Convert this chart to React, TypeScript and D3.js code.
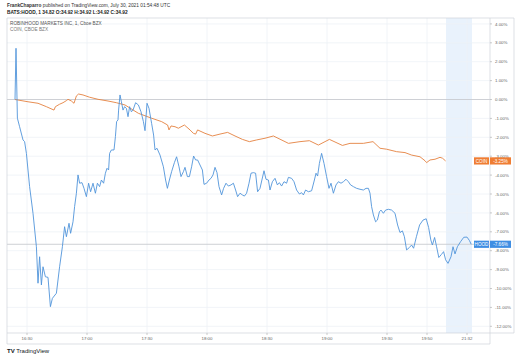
import React from "react";
import * as d3 from "d3";

const hoodIdx = [0,0.5,1.2,2.3,4,4.8,5.7,7.3,9,10.7,11.5,12.3,13.2,14,15.2,16.5,17.7,18.7,20.7,22.3,23.7,24.8,25.7,27,27.8,29,29.8,30.7,31.5,32.3,33.5,34.5,35.7,36.8,37.8,39,40.2,41.2,42.3,43.2,44.3,45.2,46,46.8,47.3,48.2,49.5,50.2,50.8,51.5,51.8,52.5,53.2,54,54.8,55.7,56.5,57.3,58.2,59,60.3,61.7,63,64.2,65,66,67,68.3,69.3,70,71,72.5,74.2,75.3,76.2,77.2,78.3,79.7,80.8,82,83,84.2,85,86.2,87.2,88.3,89.3,90.3,91.3,93.7,94.5,95.8,97,98,99,100,101,102,103.3,104.3,105.5,106.7,108,109.2,110.3,111.3,112.5,113.7,114.7,115.8,117,118,119.2,120.3,121.3,122.5,124.5,125.5,126.7,127.5,128.7,130,131.2,132.2,133.3,134.5,135.8,136.7,138.3,139.5,140.8,142.2,143.3,144.2,145.3,146.7,148.3,149.7,150.5,151.3,152.2,153.3,154.5,155.8,157,158,159.2,160.5,161.7,163,164.2,165.5,166.7,167.8,169.2,170.8,172.5,174.2,175.5,176.7,177.5,178.3,179.2,180.3,181.2,182.2,183,184.2,185.3,186.7,188.3,190,191.3,192.5,193.7,194.7,195.8,197.2,198.3,199.3,200.7,202.3,204,205.6,206.8,207.9,208.7,209.8,210.8,211.9,213.2,214.3,215.3,216.5,218,219,220,221.2,222.8,224.4,226,227.2,228.1];
const hoodPct = [0,2.71,-0.99,-1.44,-2.14,-2.23,-2.85,-4.61,-6.02,-7.79,-9.72,-8.32,-9.81,-8.85,-9.38,-9.41,-10.96,-10.52,-10.25,-8.85,-7.79,-6.73,-7.26,-6.55,-7.08,-6.47,-5.67,-4.96,-3.99,-4.43,-4.4,-4.7,-5.14,-4.43,-4.88,-4.43,-4.96,-4.43,-4.61,-4.26,-4.43,-3.9,-3.64,-3.73,-2.85,-2.67,-2.67,-1.97,-1.17,-1.08,-0.56,0.24,-0.12,-0.56,-0.38,-0.47,-0.91,-0.38,-0.65,-0.56,-0.17,-0.29,-0.65,-1.17,-1.65,-0.2,-0.47,-1.26,-1.88,-2.67,-2.58,-2.94,-3.56,-4.26,-4.7,-4.26,-3.82,-3.34,-3.03,-3.56,-4.08,-3.82,-3.59,-4.08,-4.08,-3.56,-2.99,-3.2,-3.2,-3.73,-4.49,-4.43,-4.26,-4.17,-3.99,-3.59,-3.87,-4.61,-5.05,-4.7,-4.43,-4.58,-4.52,-4.43,-4.79,-5.14,-4.96,-5.05,-5.11,-4.96,-4.43,-3.9,-3.87,-3.9,-4.88,-4.7,-3.77,-4.22,-4.26,-4.79,-4.35,-4.17,-4.52,-4.4,-4.58,-4.35,-4.43,-4.12,-4.17,-4.35,-4.79,-5,-4.93,-5.05,-4.79,-4.88,-4.83,-4.26,-3.9,-4.05,-3.38,-2.85,-3.38,-4.08,-4.7,-4.43,-4.96,-4.52,-4.35,-4.43,-4.35,-4.22,-4.35,-4.52,-4.61,-4.7,-4.75,-4.79,-4.7,-4.7,-4.96,-5.67,-6.11,-6.47,-6.38,-5.94,-5.85,-6.02,-5.85,-5.81,-5.85,-6.02,-6.64,-7.04,-6.95,-7.26,-7.96,-7.83,-7.7,-7.87,-7.26,-6.64,-6.38,-6.31,-6.77,-7.43,-7.7,-7.3,-7.79,-8.36,-8.2,-8.05,-8.48,-8.67,-8.32,-7.79,-8.17,-7.79,-7.52,-7.29,-7.28,-7.46,-7.66];

const coinIdx = [0,6.5,11.5,15.7,19.5,20.2,22.3,24,25.7,26.5,28.2,29.5,30.7,31.8,34,37.3,41.5,46.5,50.7,55,61.7,68.3,73.3,76.3,77,78,80,81.7,84.7,87.5,89.2,90.3,91.3,95,98.7,102.5,106.3,110,113.7,117.2,120.8,125,129.2,135,136.7,142.5,147.2,151.7,157.2,163.7,167.5,174.2,179,182.5,185.8,190.8,195,198.3,202.5,205,205.8,207.5,210,212.5,213.8,215.3];
const coinPct = [0,-0.12,-0.2,-0.38,-0.56,-0.38,-0.25,-0.17,-0.06,0.01,-0.08,-0.2,0.19,0.29,0.24,0.12,0.01,-0.08,-0.17,-0.29,-0.73,-0.99,-1.17,-1.35,-1.61,-1.4,-1.44,-1.52,-1.35,-1.61,-1.79,-1.83,-1.61,-1.79,-1.93,-1.83,-1.74,-1.93,-2.11,-2.23,-2.14,-2.05,-1.93,-2.23,-2.32,-2.23,-2.18,-2.41,-2.11,-2.43,-2.32,-2.32,-2.23,-2.58,-2.63,-2.76,-2.81,-2.94,-3.03,-3.24,-3.34,-3.2,-3.16,-3.06,-3.11,-3.25];

const timeTickIdx = [6, 36, 66, 96, 126, 156, 186, 206, 226];
const timeTickLabels = ["16:30", "17:00", "17:30", "18:00", "18:30", "19:00", "19:30", "19:50", "21:32"];
const pctTicks = [4, 3, 2, 1, 0, -1, -2, -3, -4, -5, -6, -7, -8, -9, -10, -11, -12];
const pctTickLabels = ["4.00%", "3.00%", "2.00%", "1.00%", "0.00%", "-1.00%", "-2.00%", "-3.00%", "-4.00%", "-5.00%", "-6.00%", "-7.00%", "-8.00%", "-9.00%", "-10.00%", "-11.00%", "-12.00%"];
const extendedHours = [215.5, 228.5];
const hoodLabel = ["HOOD", "-7.66%"];
const coinLabel = ["COIN", "-3.25%"];
const headerAuthor = "FrankChaparro";
const headerRest = " published on TradingView.com, July 30, 2021 01:54:48 UTC";
const symbolLine = "BATS:HOOD, 1 34.82 O:34.92 H:34.92 L:34.92 C:34.92";
const legend1 = "ROBINHOOD MARKETS INC, 1, Cboe BZX";
const legend2 = "COIN, CBOE BZX";

const BLUE = "#5094da";
const ORANGE = "#e4813f";
const FONT = "'Liberation Sans', Arial, sans-serif";

export default function App() {
  const left = 7, top = 18, plotRight = 490, outerRight = 514, axisY = 333, bottom = 344;
  const x = d3.scaleLinear().domain([0, 229]).range([15, 473]);
  const y = d3.scaleLinear().domain([4, -12]).range([99.5 - 4 * 18.9, 99.5 + 12 * 18.9]);
  const line = d3.line<[number, number]>().x((d) => x(d[0])).y((d) => y(d[1]));
  const hood = line(hoodIdx.map((v, i) => [v, hoodPct[i]]));
  const coin = line(coinIdx.map((v, i) => [v, coinPct[i]]));
  const hoodLast = hoodPct[hoodPct.length - 1];
  const coinLast = coinPct[coinPct.length - 1];
  const grid = "#eef1f6";
  const frame = "#cfd3da";

  const priceLabel = (lab: string[], v: number, color: string) => {
    const cy = y(v);
    return (
      <g>
        <rect x={474} y={cy - 3.6} width={15} height={7.2} fill={color} />
        <text x={481.5} y={cy + 1.7} fontSize={4.6} fill="#fff" textAnchor="middle" fontFamily={FONT}>{lab[0]}</text>
        <rect x={490} y={cy - 3.6} width={21} height={7.2} fill={color} />
        <text x={500.5} y={cy + 1.7} fontSize={4.6} fill="#fff" textAnchor="middle" fontFamily={FONT}>{lab[1]}</text>
      </g>
    );
  };

  return (
    <svg width={520} height={356} style={{ position: "absolute", left: 0, top: 0, background: "#fff" }}>
      <rect width={520} height={356} fill="#fff" />
      <text x={7} y={7} fontSize={4.8} fontFamily={FONT} fill="#333">
        <tspan fontWeight="bold">{headerAuthor}</tspan>
        <tspan>{headerRest}</tspan>
      </text>
      <text x={7} y={14} fontSize={4.8} fontFamily={FONT} fill="#222" fontWeight="bold">{symbolLine}</text>

      <rect x={x(extendedHours[0])} y={top} width={x(extendedHours[1]) - x(extendedHours[0])} height={axisY - top} fill="#e9f2fc" />

      {timeTickIdx.map((t) => (
        <line key={"vg" + t} x1={x(t)} x2={x(t)} y1={top} y2={axisY} stroke={grid} strokeWidth={0.8} />
      ))}
      {pctTicks.map((p) => (
        <line key={"hg" + p} x1={left} x2={plotRight} y1={y(p)} y2={y(p)} stroke={p === 0 ? "#c8cbd0" : grid} strokeWidth={p === 0 ? 0.9 : 0.8} />
      ))}
      <line x1={left} x2={plotRight} y1={y(hoodLast)} y2={y(hoodLast)} stroke="#c8cbd0" strokeWidth={0.9} />

      <text x={10} y={25} fontSize={4.7} fontFamily={FONT} fill="#555">{legend1}</text>
      <text x={10} y={31} fontSize={4.7} fontFamily={FONT} fill="#777">{legend2}</text>

      <path d={coin ?? ""} fill="none" stroke={ORANGE} strokeWidth={0.9} strokeLinejoin="round" />
      <path d={hood ?? ""} fill="none" stroke={BLUE} strokeWidth={0.9} strokeLinejoin="round" />

      <line x1={left} x2={outerRight} y1={top} y2={top} stroke={frame} strokeWidth={0.7} />
      <line x1={left} x2={left} y1={top} y2={bottom} stroke={frame} strokeWidth={0.7} />
      <line x1={outerRight} x2={outerRight} y1={top} y2={axisY} stroke={frame} strokeWidth={0.7} />
      <line x1={plotRight} x2={plotRight} y1={top} y2={bottom} stroke={frame} strokeWidth={0.7} />
      <line x1={left} x2={outerRight} y1={axisY} y2={axisY} stroke={frame} strokeWidth={0.7} />
      <line x1={left} x2={plotRight} y1={bottom} y2={bottom} stroke={frame} strokeWidth={0.7} />

      {pctTicks.map((p, i) => (
        <g key={"pt" + p}>
          <line x1={plotRight} x2={plotRight + 2} y1={y(p)} y2={y(p)} stroke="#999" strokeWidth={0.5} />
          <text x={495} y={y(p) + 1.6} fontSize={4.4} fontFamily={FONT} fill="#666">{pctTickLabels[i]}</text>
        </g>
      ))}
      {timeTickIdx.map((t, i) => (
        <g key={"tt" + t}>
          <line x1={x(t)} x2={x(t)} y1={axisY} y2={axisY + 2} stroke="#999" strokeWidth={0.5} />
          <text x={x(t)} y={340} fontSize={4.4} fontFamily={FONT} fill="#666" textAnchor="middle">{timeTickLabels[i]}</text>
        </g>
      ))}

      {priceLabel(coinLabel, coinLast, "#ef7d33")}
      {priceLabel(hoodLabel, hoodLast, "#3f8ee3")}

      <text x={7} y={353} fontSize={6} fontFamily={FONT} fill="#131722" fontWeight="bold">
        <tspan>TV</tspan>
        <tspan dx={1.5} fontWeight="normal">TradingView</tspan>
      </text>
    </svg>
  );
}
